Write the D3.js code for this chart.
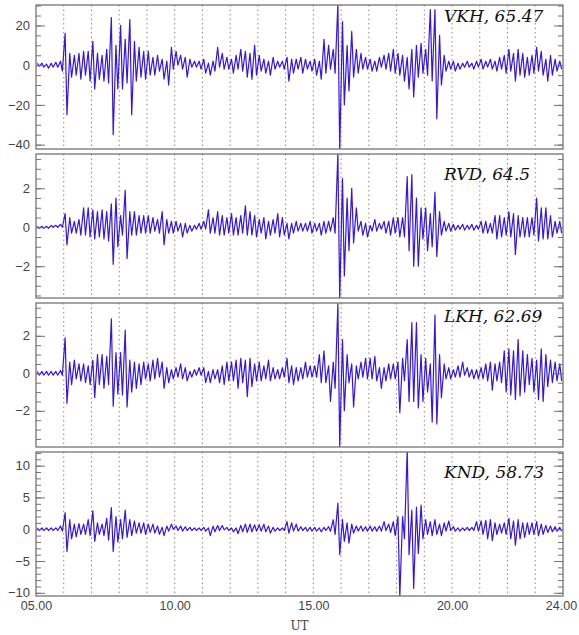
<!DOCTYPE html>
<html>
<head>
<meta charset="utf-8">
<script src="https://cdn.jsdelivr.net/npm/d3@7"></script>
<style>
  body { margin: 0; background: #fff; }
  svg { display: block; }
</style>
</head>
<body>
<div id="chart"></div>
<script>
"use strict";

//
//   DATA  (10 minute bins from 05.00 to 24.00 UT, highest / lowest value in each bin)
//

var stations = ["VKH", "RVD", "LKH", "KND"];
var latitudes = ["65.47", "64.5", "62.69", "58.73"];

var xTickValues = [5, 10, 15, 20, 24];
var xTickLabels = ["05.00", "10.00", "15.00", "20.00", "24.00"];
var gridHours = [6, 7, 8, 9, 10, 11, 12, 13, 14, 15, 16, 17, 18, 19, 20, 21, 22, 23];

var vkhHi = [
  1, 1, 0.5, 1, 1.5, 2,
  16, 6, 5, 6, 7, 7,
  12, 6, 5, 8, 24, 10,
  20, 13, 23, 12, 9, 7,
  7, 4, 5, 3, 2, 9,
  7, 5, 4, 3, 2, 2,
  3, 1, 2, 9, 6, 4,
  3, 5, 8, 7, 6, 10,
  5, 3, 2, 4, 2, 2,
  4, 3, 3, 4, 3, 2,
  3, 2, 13, 10, 8, 31,
  22, 10, 17, 8, 6, 4,
  3, 2, 4, 5, 6, 8,
  6, 5, 4, 8, 10, 11,
  8, 28, 28, 15, 5, 2,
  2, 1, 1, 2, 1, 2,
  3, 2, 3, 2, 4, 5,
  8, 6, 8, 6, 4, 5,
  9, 7, 3, 5, 3, 2
];
var vkhLo = [
  -0.5, -1, -1.5, -1, -1, -3,
  -25, -6, -5, -7, -5, -8,
  -12, -7, -8, -9, -35, -12,
  -12, -9, -25, -8, -6, -7,
  -5, -5, -3, -7, -10, -2,
  0, -2, -6, -1, -1, -2,
  -4, -5, -3, -1, -2, -2,
  -4, -2, -3, -6, -7, -5,
  -3, -4, -5, -2, -1, -2,
  -8, -4, -2, -4, -2, -3,
  -5, -7, -4, -2, -4, -43,
  -20, -13, -6, -4, -2, -2,
  -3, -3, -1, -2, -3, -4,
  -5, -8, -12, -16, -6, -4,
  -5, -8, -27, -10, -3, -2,
  -3, -2, -1, -1, -2, -1,
  -2, -1, -2, -3, -2, -4,
  -3, -8, -5, -6, -5, -4,
  -3, -5, -8, -5, -3, -2
];

var rvdHi = [
  0.05, 0.05, 0.05, 0.1, 0.1, 0.15,
  0.7, 0.5, 0.3, 0.4, 1.0, 1.0,
  0.9, 0.8, 0.9, 0.8, 1.2, 1.5,
  0.6, 1.9, 0.8, 0.8, 0.6, 0.6,
  0.6, 0.5, 0.4, 0.8, 0.4, 0.3,
  0.3, 0.2, 0.2, 0.1, 0.1, 0.2,
  0.3, 0.9, 0.5, 0.8, 0.6, 0.5,
  0.7, 0.5, 0.6, 1.1, 0.8, 0.6,
  0.4, 0.5, 0.3, 0.4, 0.7, 0.5,
  0.2, 0.2, 0.3, 0.2, 0.2, 0.3,
  0.2, 0.2, 0.3, 0.3, 0.5, 3.8,
  2.5, 1.5, 2.0, 1.0, 0.3, 0.2,
  0.1, 0.4, 0.2, 0.3, 0.3, 0.5,
  0.5, 0.5, 2.6, 2.7, 1.5, 1.0,
  1.0, 0.7, 1.8, 0.8, 0.3, 0.2,
  0.15, 0.1, 0.15, 0.1, 0.15, 0.1,
  0.3, 0.3, 0.2, 0.6, 0.6, 0.5,
  0.8, 0.7, 0.6, 0.5, 0.5, 0.5,
  1.5, 1.0, 1.0, 0.6, 0.3, 0.3
];
var rvdLo = [
  -0.05, -0.05, -0.05, 0, 0, 0,
  -0.9, -0.3, -0.3, -0.4, -0.4, -0.5,
  -0.6, -0.5, -0.6, -0.7, -1.9, -1.0,
  -0.4, -1.6, -0.4, -0.4, -0.3, -0.3,
  -0.3, -0.2, -0.3, -0.9, -0.3, -0.3,
  -0.2, -0.5, -0.3, -0.2, -0.1, -0.1,
  -0.1, -0.3, -0.3, -0.4, -0.4, -0.3,
  -0.4, -0.4, -0.3, -0.4, -0.4, -0.5,
  -0.3, -0.6, -0.4, -0.3, -0.5, -0.4,
  -0.6, -0.3, -0.2, -0.2, -0.2, -0.3,
  -0.2, -0.4, -0.3, -0.2, -0.3, -3.7,
  -2.5, -1.2, -0.8, -0.2, -0.4, -0.5,
  -0.2, -0.2, -0.1, -0.3, -0.4, -0.3,
  -0.5, -0.5, -1.2, -2.0, -2.0, -0.6,
  -1.2, -1.0, -1.5, -0.4, -0.2, -0.2,
  -0.15, -0.1, -0.15, -0.1, -0.15, -0.1,
  -0.3, -0.3, -0.3, -0.6, -0.5, -0.4,
  -0.5, -1.4, -0.5, -0.5, -0.5, -0.4,
  -0.7, -0.6, -0.6, -0.5, -0.3, -0.3
];

var lkhHi = [
  0.1, 0.1, 0.1, 0.1, 0.1, 0.15,
  1.9, 0.6, 0.7, 0.5, 0.5, 0.4,
  0.7, 1.0, 1.0, 0.9, 2.9, 1.1,
  1.1, 2.3, 0.7, 0.6, 0.5, 0.6,
  0.5, 0.7, 0.8, 0.6, 0.3, 0.2,
  0.3, 0.5, 0.3, 0.1, 0.2, 0.3,
  0.3, 0.1, 0.2, 0.2, 0.4, 0.6,
  0.6, 0.7, 0.8, 0.7, 0.8, 0.5,
  0.6, 0.4, 0.7, 0.3, 0.2, 0.3,
  0.8, 0.4, 0.3, 0.3, 0.6, 0.4,
  0.4, 1.0, 1.2, 0.4, 0.6, 3.7,
  1.8, 1.0, 0.5, 0.4, 0.6, 0.8,
  0.8, 0.9, 0.3, 0.3, 0.5, 0.5,
  0.6, 0.8, 1.8, 2.7, 2.7, 1.0,
  0.8, 0.5, 3.1, 1.0, 0.5, 0.3,
  0.2, 0.4, 0.6, 0.3, 0.2, 0.2,
  0.3, 0.5, 0.6, 0.5, 0.6, 1.2,
  1.3, 1.2, 1.8, 1.2, 1.0, 0.8,
  0.7, 1.3, 1.0, 0.7, 0.6, 0.5
];
var lkhLo = [
  -0.1, -0.1, -0.1, -0.1, -0.1, -0.1,
  -1.6, -0.6, -0.3, -0.4, -0.5, -0.6,
  -1.3, -0.6, -0.8, -0.6, -1.75, -1.1,
  -1.15, -1.8, -1.0, -0.8, -0.6, -0.3,
  -0.4, -0.3, -0.2, -0.8, -0.5, -0.3,
  -0.2, -0.3, -0.4, -0.2, -0.1, -0.1,
  -0.5, -0.5, -0.3, -0.5, -0.6, -0.4,
  -0.4, -0.8, -0.5, -1.25, -0.7, -0.4,
  -0.4, -0.3, -0.4, -0.3, -0.3, -0.2,
  -0.5, -0.6, -0.4, -0.3, -0.2, -0.2,
  -0.2, -0.5, -0.5, -1.5, -0.8, -3.9,
  -2.0, -0.5, -1.8, -0.3, -0.2, -0.3,
  -0.3, -0.4, -0.8, -0.4, -0.3, -0.3,
  -2.1, -0.4, -1.5, -1.5, -1.85, -1.5,
  -1.0, -2.6, -2.7, -1.3, -0.3, -0.3,
  -0.2, -0.2, -0.1, -0.2, -0.3, -0.3,
  -0.3, -0.4, -0.9, -0.4, -0.5, -1.0,
  -1.15, -1.4, -1.2, -1.0, -0.6, -1.0,
  -1.4, -1.5, -0.7, -0.5, -0.4, -0.4
];

var kndHi = [
  0.2, 0.2, 0.2, 0.2, 0.2, 0.5,
  2.6, 1.5, 0.8, 0.9, 0.8, 1.5,
  2.9, 1.0, 0.8, 1.7, 3.4, 2.0,
  1.5, 3.0, 1.5, 1.3, 1.0, 1.0,
  0.8, 0.8, 0.5, 0.3, 0.5, 0.8,
  0.5, 0.5, 0.4, 0.3, 0.2, 0.2,
  0.3, 0.2, 0.5, 0.6, 0.6, 0.3,
  0.2, 0.2, 0.6, 0.8, 0.8, 0.7,
  0.7, 0.8, 0.5, 0.3, 0.2, 0.2,
  1.2, 1.0, 0.8, 0.4, 0.3, 0.3,
  0.3, 0.2, 0.3, 0.4, 1.5, 4.1,
  1.5, 1.0, 0.8, 0.5, 0.5, 0.4,
  0.5, 0.4, 0.5, 1.2, 0.8, 1.2,
  2.0, 2.0, 12.5, 3.0, 3.5, 3.8,
  1.5, 1.2, 1.5, 0.8, 1.0, 1.3,
  0.4, 0.2, 0.2, 0.3, 0.3, 1.2,
  1.3, 1.4, 1.5, 1.0, 0.8, 1.0,
  1.7, 1.3, 1.5, 1.0, 1.0, 1.0,
  1.2, 0.8, 0.6, 0.5, 0.4, 0.3
];
var kndLo = [
  -0.2, -0.2, -0.2, -0.2, -0.2, -0.3,
  -3.5, -1.5, -1.2, -0.8, -0.8, -1.0,
  -1.9, -0.8, -1.0, -1.7, -3.5, -2.0,
  -1.5, -1.3, -1.0, -0.6, -0.6, -0.8,
  -0.5, -0.6, -0.8, -1.0, -0.3, 0.0,
  -0.2, -0.3, -0.2, -0.2, -0.2, -0.2,
  -0.3, -1.0, -0.4, -0.2, -0.1, -0.2,
  -0.4, -0.7, -0.4, -0.5, -0.4, -0.3,
  -0.3, -0.4, -0.6, -0.3, -0.2, -0.2,
  -0.6, -0.3, -0.3, -0.2, -0.3, -0.3,
  -0.3, -0.4, -0.2, -0.3, -0.8, -4.0,
  -1.9, -2.2, -0.6, -0.3, -0.3, -0.3,
  -0.3, -0.3, -0.3, -0.2, -0.5, -1.0,
  -10.6, -1.5, -4.0, -9.3, -3.8, -1.5,
  -0.8, -1.0, -0.8, -1.0, -0.3, -0.2,
  -0.3, -0.3, -0.2, -0.2, -0.2, -0.3,
  -0.8, -1.5, -1.8, -0.8, -0.6, -0.8,
  -1.5, -2.5, -1.5, -1.3, -0.8, -0.8,
  -1.0, -0.8, -0.5, -0.4, -0.3, -0.3
];

// y range and tick values of each panel
var yDomains = [[-42.2, 30.3], [-3.63, 3.76], [-3.93, 3.75], [-10.5, 12.15]];
var yMajorTicks = [[-40, -20, 0, 20], [-2, 0, 2], [-2, 0, 2], [-10, -5, 0, 5, 10]];
var yMinorSteps = [5, 0.5, 0.5, 1];


//
//   LAYOUT
//

var WIDTH = 579;
var HEIGHT = 635;
var LEFT = 36;
var RIGHT = 563;
var PANEL_TOP = 5;
var PANEL_HEIGHT = 144;
var PANEL_STEP = 149;
var BIN = 1 / 6; // hours
var MAJOR_TICK = 9;
var MINOR_TICK = 5;
var LABEL_X = 444;
var LABEL_DY = [17, 26, 19, 26];

var LINE_COLOR = "#3416de";
var FRAME_COLOR = "#747474";
var GRID_COLOR = "#8a8a8a";
var TEXT_COLOR = "#444";

var series = [[vkhHi, vkhLo], [rvdHi, rvdLo], [lkhHi, lkhLo], [kndHi, kndLo]];

var svg = d3.select("#chart").append("svg")
    .attr("width", WIDTH)
    .attr("height", HEIGHT);

var scaleX = d3.scaleLinear().domain([5, 24]).range([LEFT, RIGHT]);

var lineGenerator = d3.line()
    .x(function (d) { return scaleX(d.t); })
    .y(function (d) { return d.y; });


//
//   PANELS
//

stations.forEach(function (station, p) {
    var top = PANEL_TOP + p * PANEL_STEP;
    var bottom = top + PANEL_HEIGHT;
    var scaleY = d3.scaleLinear().domain(yDomains[p]).range([bottom, top]);
    var g = svg.append("g").attr("class", "panel");

    // Dotted hour lines
    g.selectAll("line.grid").data(gridHours).enter().append("line")
        .attr("class", "grid")
        .attr("x1", function (d) { return scaleX(d); })
        .attr("x2", function (d) { return scaleX(d); })
        .attr("y1", top)
        .attr("y2", bottom)
        .style("stroke", GRID_COLOR)
        .style("stroke-width", 1)
        .style("stroke-dasharray", "1.5,3");

    // Clip for the trace
    svg.append("clipPath").attr("id", "clip" + p)
        .append("rect")
        .attr("x", LEFT).attr("y", top)
        .attr("width", RIGHT - LEFT).attr("height", PANEL_HEIGHT);

    // Trace: in each bin the line goes up to the high value, then down to the low value
    var hi = series[p][0];
    var lo = series[p][1];
    var points = [];
    hi.forEach(function (h, i) {
        var t0 = 5 + i * BIN;
        points.push({ t: t0 + BIN * 0.3, y: scaleY(h) });
        points.push({ t: t0 + BIN * 0.7, y: scaleY(lo[i]) });
    });

    g.append("path")
        .attr("d", lineGenerator(points))
        .attr("clip-path", "url(#clip" + p + ")")
        .style("fill", "none")
        .style("stroke", LINE_COLOR)
        .style("stroke-width", 1.2)
        .style("stroke-linejoin", "round");

    // Minor and major ticks, both sides, pointing in
    var minor = d3.range(Math.ceil(yDomains[p][0] / yMinorSteps[p]) * yMinorSteps[p], yDomains[p][1], yMinorSteps[p]);
    [[d3.axisRight, LEFT], [d3.axisLeft, RIGHT]].forEach(function (side) {
        g.append("g")
            .attr("transform", translate(side[1], 0))
            .call(side[0](scaleY).tickValues(minor).tickSize(MINOR_TICK).tickFormat(""))
            .call(styleAxis);
        g.append("g")
            .attr("transform", translate(side[1], 0))
            .call(side[0](scaleY).tickValues(yMajorTicks[p]).tickSize(MAJOR_TICK).tickFormat(""))
            .call(styleAxis);
    });

    // Tick labels
    g.append("g")
        .attr("transform", translate(LEFT, 0))
        .call(d3.axisLeft(scaleY).tickValues(yMajorTicks[p]).tickSize(0).tickPadding(6))
        .call(styleAxis)
        .selectAll("text")
        .style("font-family", "'Liberation Sans', Arial, sans-serif")
        .style("font-size", "13px")
        .style("fill", TEXT_COLOR);

    // Frame
    g.append("rect")
        .attr("x", LEFT).attr("y", top)
        .attr("width", RIGHT - LEFT).attr("height", PANEL_HEIGHT)
        .style("fill", "none")
        .style("stroke", FRAME_COLOR)
        .style("stroke-width", 1.3);

    // Station name and latitude
    g.append("text")
        .attr("x", LABEL_X)
        .attr("y", top + LABEL_DY[p])
        .text(station + ", " + latitudes[p])
        .style("font-family", "'DejaVu Serif', serif")
        .style("font-style", "italic")
        .style("font-size", "17px")
        .style("fill", "#111");

    // Time axis under the last panel
    if (p == stations.length - 1) {
        var xAxis = svg.append("g")
            .attr("transform", translate(0, bottom))
            .call(d3.axisBottom(scaleX).tickValues(xTickValues)
                .tickFormat(function (d, i) { return xTickLabels[i]; })
                .tickSize(0).tickPadding(5))
            .call(styleAxis);
        xAxis.selectAll("text")
            .attr("dx", function (d) { return d == 24 ? -2 : 0; })
            .style("font-family", "'Liberation Sans', Arial, sans-serif")
            .style("font-size", "12.5px")
            .style("fill", TEXT_COLOR);

        svg.append("text")
            .attr("x", (LEFT + RIGHT) / 2)
            .attr("y", bottom + 34)
            .attr("text-anchor", "middle")
            .text("UT")
            .style("font-family", "'DejaVu Serif', serif")
            .style("font-size", "12px")
            .style("fill", TEXT_COLOR);
    }
});


//
//   HELPERS
//

function styleAxis(sel) {
    sel.select(".domain").remove();
    sel.selectAll(".tick line").style("stroke", FRAME_COLOR).style("stroke-width", 1);
}

function translate(x, y) {
    return "translate(" + x + "," + y + ")";
}
</script>
</body>
</html>
